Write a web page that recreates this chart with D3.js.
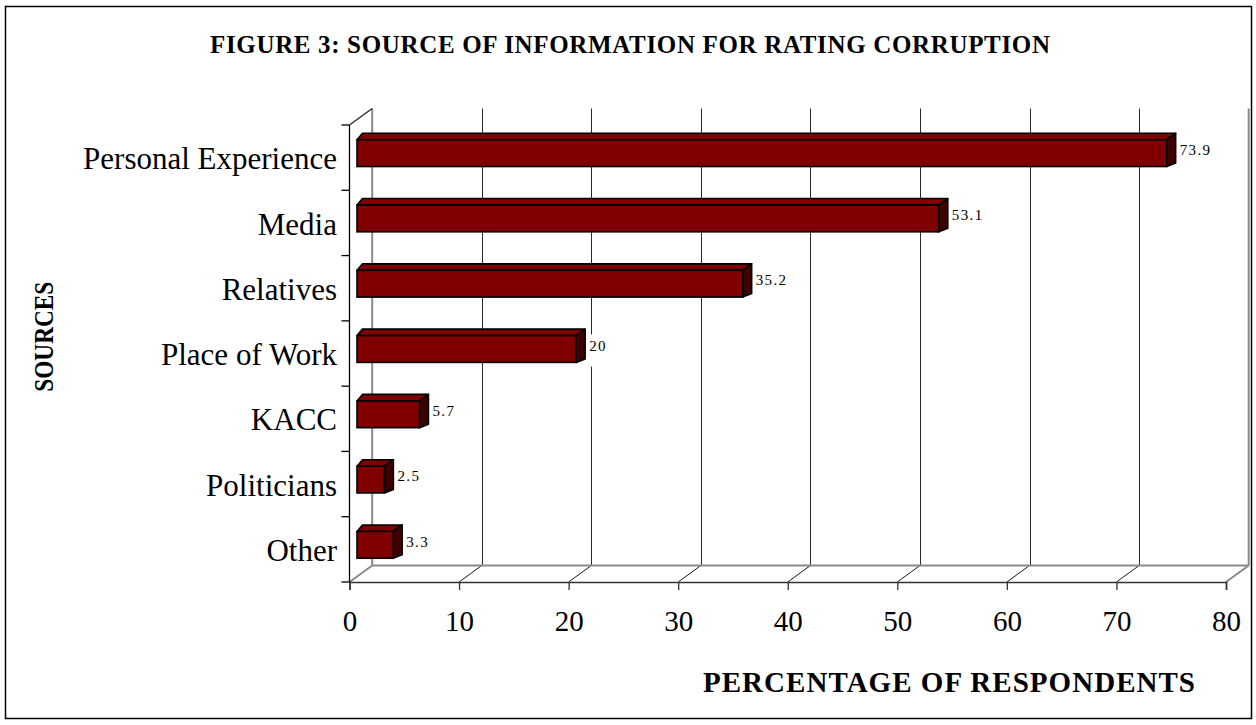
<!DOCTYPE html>
<html>
<head>
<meta charset="utf-8">
<script src="https://cdn.jsdelivr.net/npm/d3@7"></script>
<style>
  html, body { margin: 0; padding: 0; background: #fff; }
  svg { display: block; }
  text { font-family: "Liberation Serif", "Times New Roman", serif; fill: #000; }
</style>
</head>
<body>
<svg id="chart" width="1256" height="725"></svg>
<script>
// Sources of information used when rating corruption (% of respondents)
const categories = ["Personal Experience", "Media", "Relatives", "Place of Work", "KACC", "Politicians", "Other"];
const percentValues = [73.9, 53.1, 35.2, 20, 5.7, 2.5, 3.3];
const valueLabels = ["73.9", "53.1", "35.2", "20", "5.7", "2.5", "3.3"];
const xTickValues = [0, 10, 20, 30, 40, 50, 60, 70, 80];
const chartTitle = "FIGURE 3: SOURCE OF INFORMATION FOR RATING CORRUPTION";
const xAxisTitle = "PERCENTAGE OF RESPONDENTS";
const yAxisTitle = "SOURCES";

const svg = d3.select("#chart");

// outer frame
svg.append("rect")
  .attr("x", 5.5).attr("y", 6.5).attr("width", 1246).attr("height", 712)
  .attr("fill", "#fff").attr("stroke", "#000").attr("stroke-width", 1.5);

// front plane of the plot box and the oblique depth offset of the back wall
const plot = { left: 349.5, right: 1226, top: 125, bottom: 582 };
const DX = 22.7, DY = -16.5;

const x = d3.scaleLinear().domain([0, 80]).range([plot.left, plot.right]);
const y = d3.scaleBand().domain(categories).range([plot.top, plot.bottom]).padding(0);

const g = svg.append("g");

// back-wall gridlines
g.selectAll("line.grid")
  .data(xTickValues.filter(v => v > 0 && v < 80))
  .join("line")
  .attr("class", "grid")
  .attr("x1", d => Math.round(x(d) + DX) + 0.5)
  .attr("x2", d => Math.round(x(d) + DX) + 0.5)
  .attr("y1", plot.top + DY).attr("y2", plot.bottom + DY)
  .attr("stroke", "#2a2a2a").attr("stroke-width", 1);

// floor diagonals from each front tick to the back wall
g.selectAll("line.floor")
  .data(xTickValues.filter(v => v > 0 && v < 80))
  .join("line")
  .attr("class", "floor")
  .attr("x1", d => x(d)).attr("y1", plot.bottom)
  .attr("x2", d => x(d) + DX).attr("y2", plot.bottom + DY)
  .attr("stroke", "#1a1a1a").attr("stroke-width", 1);

// wall and floor edges (grey)
const edges = [
  [x(0) + DX, plot.top + DY, x(0) + DX, plot.bottom + DY],
  [x(80) + DX, plot.top + DY, x(80) + DX, plot.bottom + DY],
  [x(0) + DX, plot.bottom + DY, x(80) + DX, plot.bottom + DY],
  [x(0), plot.bottom, x(0) + DX, plot.bottom + DY],
  [x(80), plot.bottom, x(80) + DX, plot.bottom + DY]
];
g.selectAll("line.edge")
  .data(edges)
  .join("line")
  .attr("class", "edge")
  .attr("x1", d => d[0]).attr("y1", d => d[1])
  .attr("x2", d => d[2]).attr("y2", d => d[3])
  .attr("stroke", "#8a8a8a").attr("stroke-width", 2);

// top-left corner of the side wall
g.append("line")
  .attr("x1", x(0)).attr("y1", plot.top)
  .attr("x2", x(0) + DX).attr("y2", plot.top + DY)
  .attr("stroke", "#222").attr("stroke-width", 1.2);

// x axis along the front edge of the floor
const xAxis = d3.axisBottom(x).tickValues(xTickValues).tickSize(8).tickFormat(d3.format("d"));
const xg = svg.append("g").attr("transform", `translate(0,${plot.bottom})`).call(xAxis);
xg.select(".domain").attr("stroke", "#333").attr("stroke-width", 1.6);
xg.selectAll(".tick line").attr("stroke", "#333").attr("stroke-width", 1.3);
xg.selectAll(".tick text")
  .attr("y", 48.7).attr("dy", null)
  .style("font-family", "'Liberation Serif', serif")
  .style("font-size", "29px").attr("fill", "#111");

// y axis line with ticks at category boundaries
const yg = svg.append("g");
yg.append("line")
  .attr("x1", plot.left).attr("x2", plot.left)
  .attr("y1", plot.top).attr("y2", plot.bottom)
  .attr("stroke", "#000").attr("stroke-width", 1.3);
const boundaries = categories.map(c => y(c)).concat([plot.bottom]);
yg.selectAll("line.ytick")
  .data(boundaries)
  .join("line")
  .attr("class", "ytick")
  .attr("x1", plot.left - 8).attr("x2", plot.left)
  .attr("y1", d => d).attr("y2", d => d)
  .attr("stroke", "#000").attr("stroke-width", 1.3);

// category labels
yg.selectAll("text.cat")
  .data(categories)
  .join("text")
  .attr("class", "cat")
  .attr("x", 337)
  .attr("y", d => y(d) + y.bandwidth() / 2 + 11.6)
  .attr("text-anchor", "end")
  .style("font-size", "31px")
  .attr("fill", "#111")
  .text(d => d);

// 3D bars
const barH = y.bandwidth() * 0.41;
const FRONT = 7.5;        // bars sit slightly behind the front plane
const TOPDX_L = 5.5, TOPDX_R = 9, TOPDY = -6.5, SIDEBOT_DY = -3.5;

const bars = categories.map((c, i) => {
  const cy = y(c) + y.bandwidth() / 2 - 4.5;
  return {
    cat: c, value: percentValues[i], label: valueLabels[i],
    x0: x(0) + FRONT, x1: x(percentValues[i]) + FRONT,
    yt: cy - barH / 2, yb: cy + barH / 2, cy: y(c) + y.bandwidth() / 2
  };
});

const bg = svg.append("g");
const barG = bg.selectAll("g.bar").data(bars).join("g").attr("class", "bar");

// top face
barG.append("path")
  .attr("d", d => `M${d.x0},${d.yt} L${d.x1},${d.yt} L${d.x1 + TOPDX_R},${d.yt + TOPDY} L${d.x0 + TOPDX_L},${d.yt + TOPDY} Z`)
  .attr("fill", "#800000").attr("stroke", "#000").attr("stroke-width", 1.6).attr("stroke-linejoin", "round");
// side face
barG.append("path")
  .attr("d", d => `M${d.x1},${d.yt} L${d.x1 + TOPDX_R},${d.yt + TOPDY} L${d.x1 + TOPDX_R},${d.yb + SIDEBOT_DY} L${d.x1},${d.yb} Z`)
  .attr("fill", "#3f0000").attr("stroke", "#000").attr("stroke-width", 1.6).attr("stroke-linejoin", "round");
// front face
barG.append("rect")
  .attr("x", d => d.x0).attr("y", d => d.yt)
  .attr("width", d => d.x1 - d.x0).attr("height", barH)
  .attr("fill", "#800000").attr("stroke", "#000").attr("stroke-width", 1.6);

// value labels on a white box
const lblG = svg.append("g");
const lbl = lblG.selectAll("g.lbl").data(bars).join("g").attr("class", "lbl");
lbl.append("rect").attr("class", "lblbg").attr("fill", "#fff");
lbl.append("text")
  .attr("x", d => d.x1 + TOPDX_R + 4)
  .attr("y", d => d.cy - 2.8)
  .style("font-size", "15px")
  .style("letter-spacing", "1.4px")
  .attr("fill", "#222")
  .text(d => d.label);
lbl.each(function(d) {
  const t = d3.select(this).select("text").node();
  const w = t.getComputedTextLength();
  d3.select(this).select("rect")
    .attr("x", d.x1 + TOPDX_R + 1.5).attr("y", d.cy - 19)
    .attr("width", w + 6).attr("height", 32);
});

// titles
svg.append("text")
  .attr("x", 630).attr("y", 52.7)
  .attr("text-anchor", "middle")
  .style("font-size", "25px").style("font-weight", "bold")
  .attr("textLength", 840).attr("lengthAdjust", "spacing")
  .text(chartTitle);

svg.append("text")
  .attr("x", 949).attr("y", 692.3)
  .attr("text-anchor", "middle")
  .style("font-size", "29px").style("font-weight", "bold")
  .attr("textLength", 492).attr("lengthAdjust", "spacing")
  .text(xAxisTitle);

svg.append("text")
  .attr("transform", "translate(53,336.7) rotate(-90)")
  .attr("text-anchor", "middle")
  .style("font-size", "28px").style("font-weight", "bold")
  .attr("textLength", 110).attr("lengthAdjust", "spacingAndGlyphs")
  .text(yAxisTitle);
</script>
</body>
</html>
